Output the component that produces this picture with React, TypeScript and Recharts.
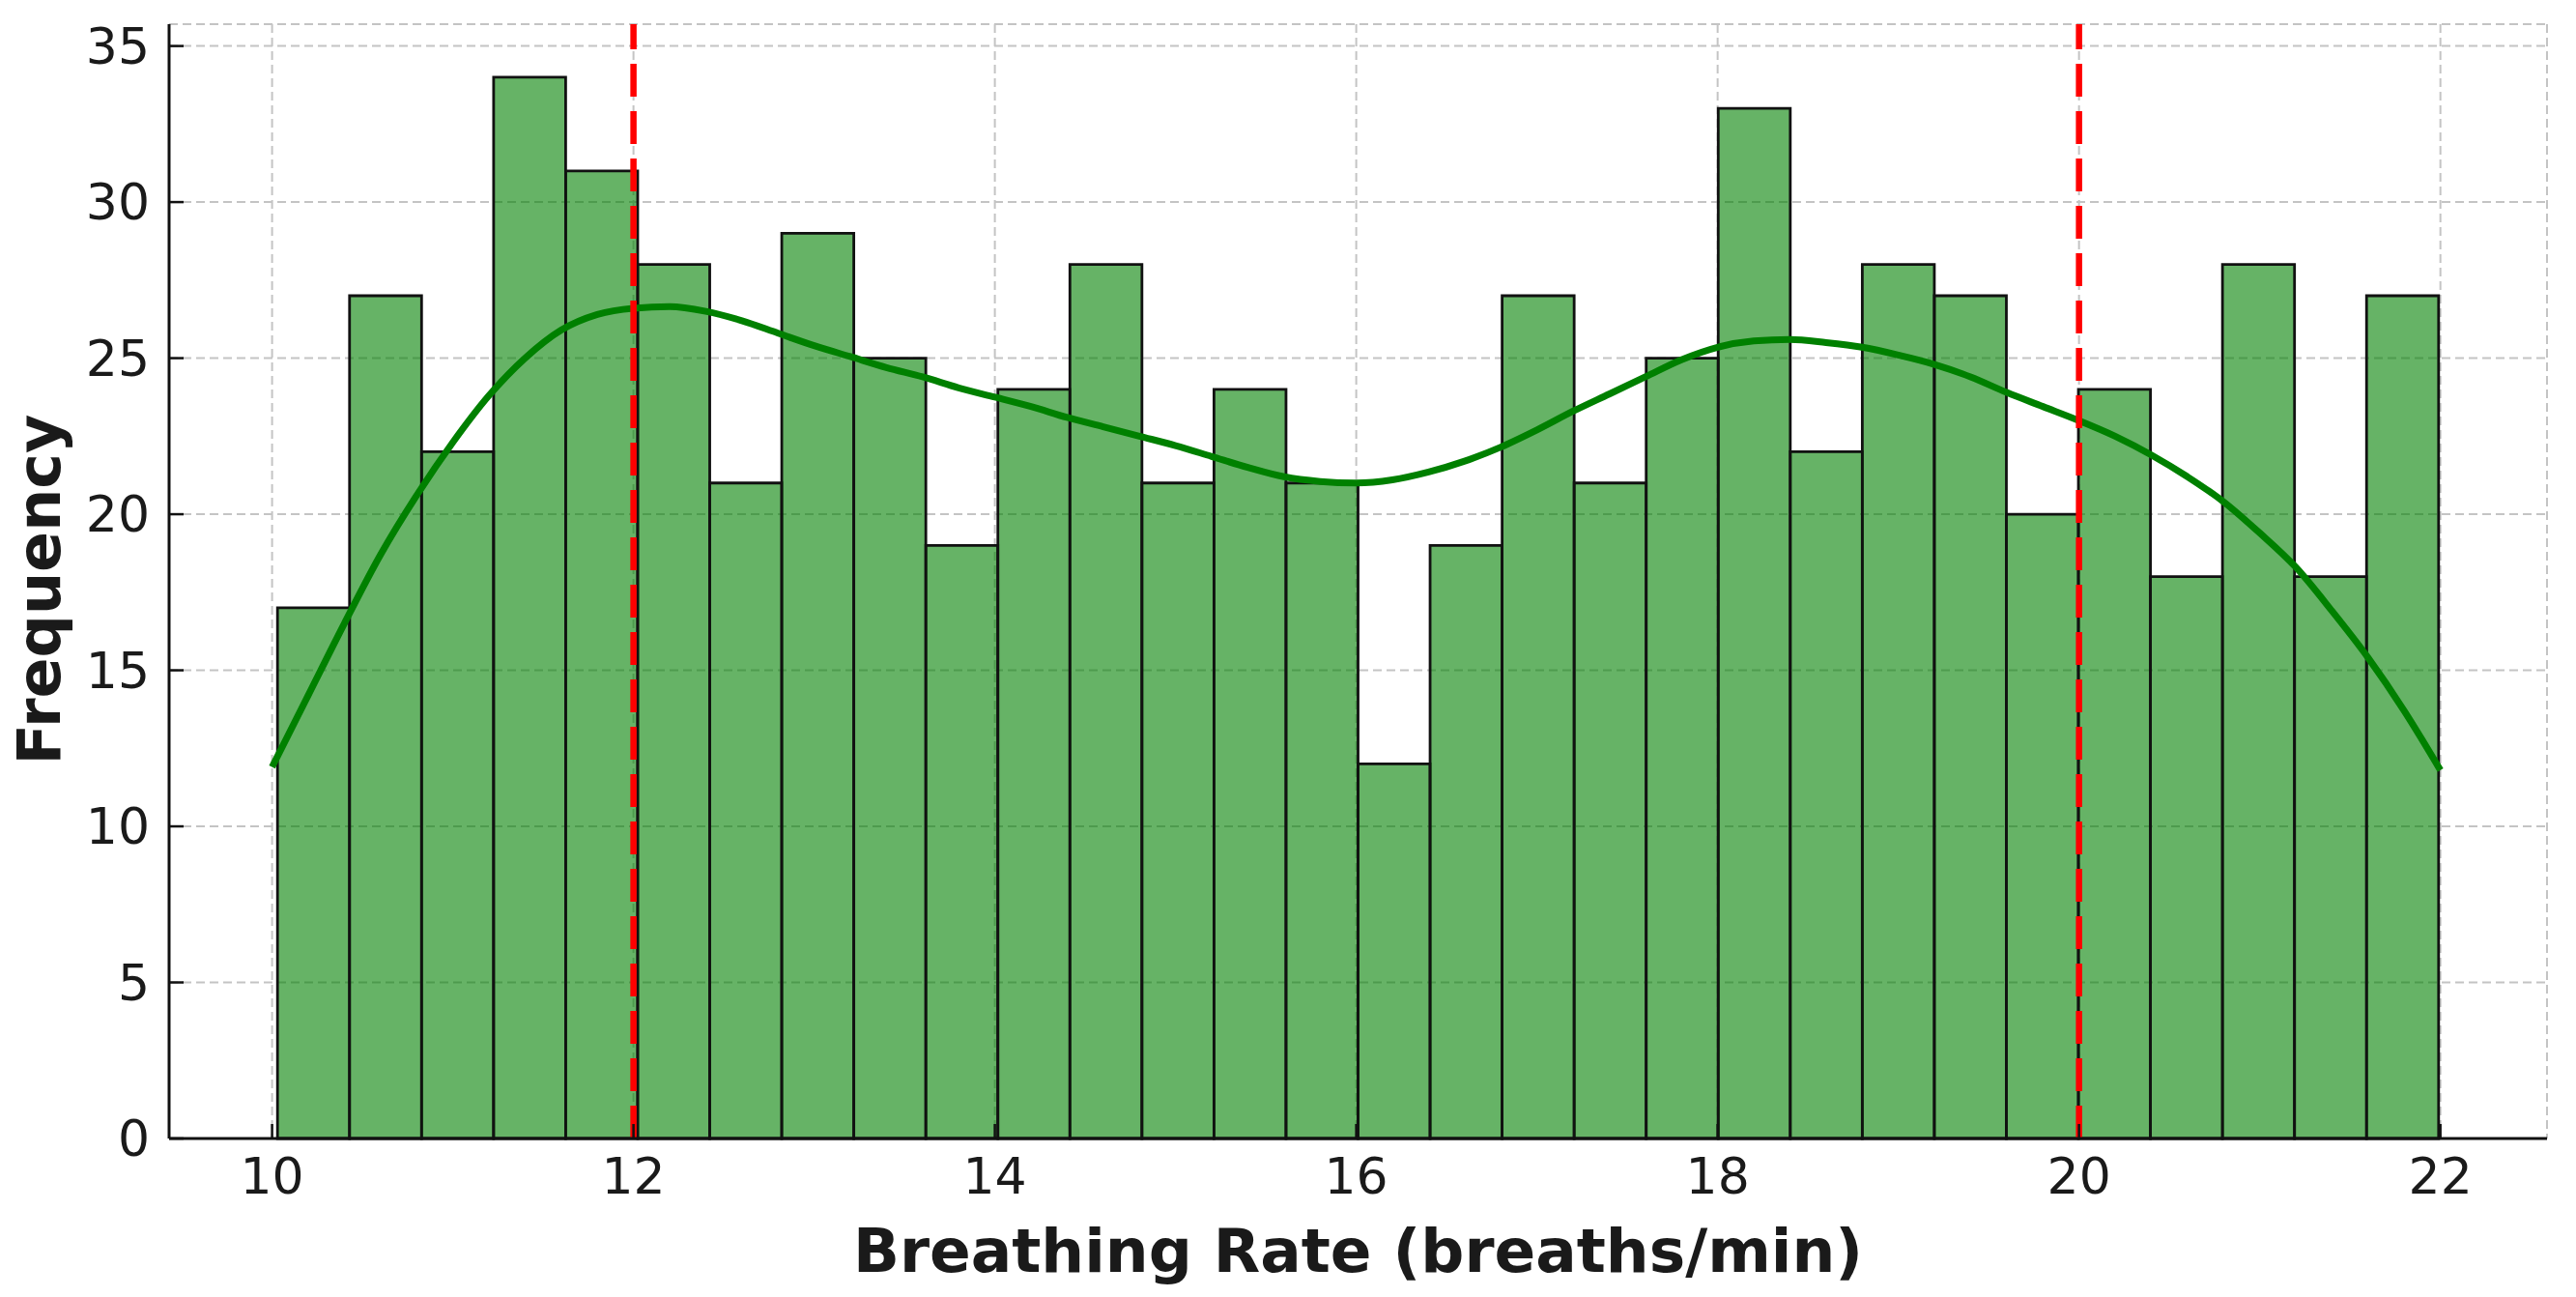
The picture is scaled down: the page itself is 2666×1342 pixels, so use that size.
import {
  ComposedChart,
  CartesianGrid,
  Line,
  ReferenceArea,
  ReferenceLine,
  XAxis,
  YAxis,
  Label,
} from 'recharts';

// histogram counts, 30 bins between the min and max of the sample
const binStart = 10.03;
const binEnd = 21.99;
const counts = [
  17, 27, 22, 34, 31, 28, 21, 29, 25, 19,
  24, 28, 21, 24, 21, 12, 19, 27, 21, 25,
  33, 22, 28, 27, 20, 24, 18, 28, 18, 27,
];

// kde curve
const kdeX = [
  10.0, 10.2, 10.4, 10.6, 10.8, 11.0, 11.2, 11.4, 11.6, 11.8,
  12.0, 12.2, 12.4, 12.6, 12.8, 13.0, 13.2, 13.4, 13.6, 13.8,
  14.0, 14.2, 14.4, 14.6, 14.8, 15.0, 15.2, 15.4, 15.6, 15.8,
  16.0, 16.2, 16.4, 16.6, 16.8, 17.0, 17.2, 17.4, 17.6, 17.8,
  18.0, 18.2, 18.4, 18.6, 18.8, 19.0, 19.2, 19.4, 19.6, 19.8,
  20.0, 20.2, 20.4, 20.6, 20.8, 21.0, 21.2, 21.4, 21.6, 21.8, 22.0,
];
const kdeY = [
  11.9, 14.2, 16.5, 18.7, 20.6, 22.3, 23.8, 25.0, 25.9, 26.4,
  26.6, 26.65, 26.5, 26.2, 25.8, 25.4, 25.05, 24.7, 24.4, 24.05,
  23.75, 23.45, 23.1, 22.8, 22.5, 22.2, 21.85, 21.5, 21.2, 21.05,
  21.0, 21.1, 21.35, 21.7, 22.15, 22.7, 23.3, 23.85, 24.4, 24.95,
  25.35, 25.55, 25.6, 25.5, 25.35, 25.1, 24.8, 24.4, 23.9, 23.45,
  23.0, 22.5, 21.9, 21.2, 20.4, 19.4, 18.3, 16.9, 15.4, 13.7, 11.8,
];

const normalRange = [12, 20];
const xTicks = [10, 12, 14, 16, 18, 20, 22];
const yTicks = [0, 5, 10, 15, 20, 25, 30, 35];

const binWidth = (binEnd - binStart) / counts.length;
const bins = counts.map((c, i) => ({
  x1: binStart + i * binWidth,
  x2: binStart + (i + 1) * binWidth,
  count: c,
}));
const kdeData = kdeX.map((x, i) => ({ x, y: kdeY[i] }));

const FONT = '"DejaVu Sans", sans-serif';
const TEXT = '#1a1a1a';

function YTick(props: any) {
  const { x, y, payload } = props;
  const axisX = x + 20;
  return (
    <g>
      <line x1={axisX} x2={axisX + 15} y1={y} y2={y} stroke="#111" strokeWidth={2.5} />
      <text x={x} y={y} dy={18} textAnchor="end" fontSize={52} fontFamily={FONT} fill={TEXT}>
        {payload.value}
      </text>
    </g>
  );
}

function XTick(props: any) {
  const { x, y, payload } = props;
  return (
    <g>
      <line x1={x} x2={x} y1={y} y2={y - 15} stroke="#111" strokeWidth={2.5} />
      <text x={x} y={y + 57} textAnchor="middle" fontSize={52} fontFamily={FONT} fill={TEXT}>
        {payload.value}
      </text>
    </g>
  );
}

export default function App() {
  // negative margin cancels the body margin so the svg covers the whole page
  return (
    <div style={{ width: 2666, height: 1342, margin: -8, background: '#fff' }}>
      <ComposedChart
        width={2666}
        height={1342}
        data={kdeData}
        margin={{ top: 25, right: 30, bottom: 0, left: 0 }}
      >
        <CartesianGrid stroke="#c4c4c4" strokeDasharray="9 5" strokeWidth={2} />
        <XAxis
          dataKey="x"
          type="number"
          domain={[9.43, 22.59]}
          ticks={xTicks}
          height={164}
          tickSize={0}
          tickMargin={0}
          tick={<XTick />}
          axisLine={{ stroke: '#111', strokeWidth: 3 }}
          tickLine={false}
          allowDataOverflow
        >
          <Label
            content={({ viewBox }: any) => (
              <text
                x={viewBox.x + viewBox.width / 2}
                y={1316}
                textAnchor="middle"
                fontSize={63}
                fontWeight="bold"
                fontFamily={FONT}
                fill={TEXT}
              >
                Breathing Rate (breaths/min)
              </text>
            )}
          />
        </XAxis>
        <YAxis
          type="number"
          domain={[0, 35.7]}
          ticks={yTicks}
          width={175}
          tickSize={0}
          tickMargin={20}
          tick={<YTick />}
          axisLine={{ stroke: '#111', strokeWidth: 3 }}
          tickLine={false}
          allowDataOverflow
        >
          <Label
            content={() => (
              <text
                x={62}
                y={610}
                transform="rotate(-90 62 610)"
                textAnchor="middle"
                fontSize={62}
                fontWeight="bold"
                fontFamily={FONT}
                fill={TEXT}
              >
                Frequency
              </text>
            )}
          />
        </YAxis>
        {bins.map((b, i) => (
          <ReferenceArea
            key={i}
            x1={b.x1}
            x2={b.x2}
            y1={0}
            y2={b.count}
            fill="#008000"
            fillOpacity={0.6}
            stroke="#111"
            strokeWidth={2.8}
          />
        ))}
        <Line
          dataKey="y"
          type="monotone"
          stroke="#008000"
          strokeWidth={7}
          dot={false}
          activeDot={false}
          isAnimationActive={false}
        />
        {normalRange.map(v => (
          <ReferenceLine key={v} x={v} stroke="#ff0000" strokeWidth={6.5} strokeDasharray="34 15" />
        ))}
      </ComposedChart>
    </div>
  );
}
